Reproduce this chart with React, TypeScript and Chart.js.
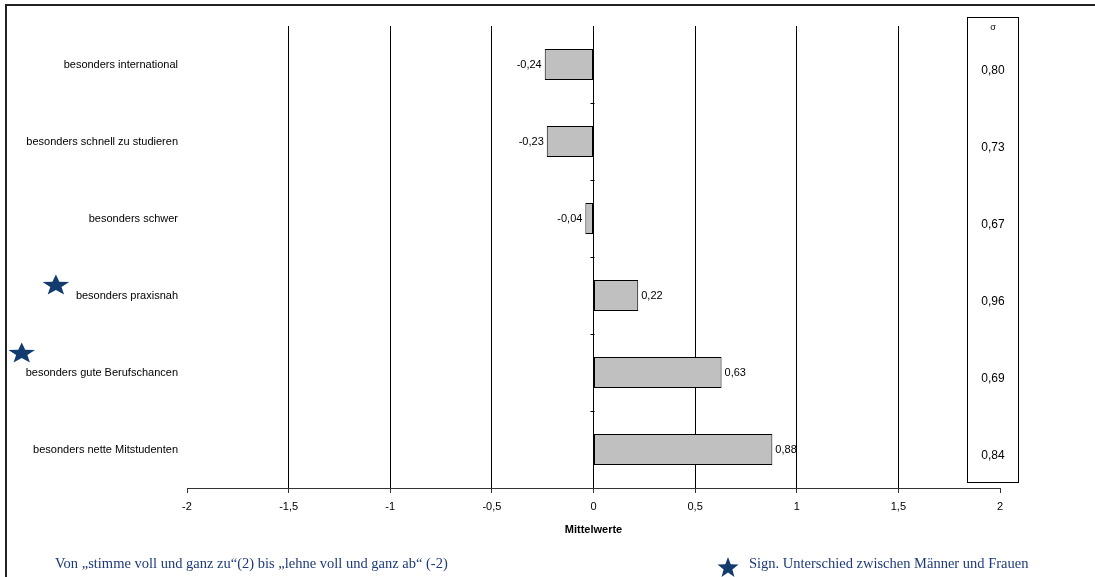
import React, { useEffect, useRef } from "react";
import { Chart, registerables } from "chart.js";
Chart.register(...registerables);

const categories = [
  "besonders international",
  "besonders schnell zu studieren",
  "besonders schwer",
  "besonders praxisnah",
  "besonders gute Berufschancen",
  "besonders nette Mitstudenten",
];
const meanValues = [-0.24, -0.23, -0.04, 0.22, 0.63, 0.88];
const sigmaValues = [0.8, 0.73, 0.67, 0.96, 0.69, 0.84];
const significantCategories = [3, 4];
const xMin = -2;
const xMax = 2;
const xStep = 0.5;
const axisTitle = "Mittelwerte";
const sigmaHeader = "σ";
const footnoteLeft = "Von „stimme voll und ganz zu“(2) bis „lehne voll und ganz ab“ (-2)";
const footnoteRight = "Sign. Unterschied zwischen Männer und Frauen";

const NAVY = "#123c6e";
const TEXT_NAVY = "#1d3a78";

const fmt = (v: number, d?: number) =>
  (d === undefined ? String(v) : v.toFixed(d)).replace(".", ",");

function drawStar(ctx: CanvasRenderingContext2D, cx: number, cy: number, rx: number, ry: number) {
  ctx.beginPath();
  for (let i = 0; i < 10; i++) {
    const r = i % 2 === 0 ? 1 : 0.42;
    const a = -Math.PI / 2 + (i * Math.PI) / 5;
    const x = cx + Math.cos(a) * rx * r;
    const y = cy + Math.sin(a) * ry * r * 1.1 + ry * 0.1;
    if (i === 0) ctx.moveTo(x, y);
    else ctx.lineTo(x, y);
  }
  ctx.closePath();
  ctx.fillStyle = NAVY;
  ctx.fill();
}

const extrasPlugin = {
  id: "extras",
  afterDatasetsDraw(chart: any) {
    const ctx: CanvasRenderingContext2D = chart.ctx;
    const xs = chart.scales.x;
    const ys = chart.scales.y;
    ctx.save();
    // value labels
    ctx.font = "11px 'Liberation Sans', Arial, sans-serif";
    ctx.fillStyle = "#000";
    ctx.textBaseline = "middle";
    meanValues.forEach((v, i) => {
      const y = ys.getPixelForValue(i);
      const x = xs.getPixelForValue(v);
      if (v < 0) {
        ctx.textAlign = "right";
        ctx.fillText(fmt(v, 2), x - 3, y);
      } else {
        ctx.textAlign = "left";
        ctx.fillText(fmt(v, 2), x + 3, y);
      }
    });
    // ticks on zero axis between categories
    const x0 = Math.round(xs.getPixelForValue(0)) + 0.5;
    ctx.strokeStyle = "#000";
    ctx.lineWidth = 1;
    for (let i = 0; i < categories.length - 1; i++) {
      const yb = Math.round((ys.getPixelForValue(i) + ys.getPixelForValue(i + 1)) / 2) + 0.5;
      ctx.beginPath();
      ctx.moveTo(x0 - 4, yb);
      ctx.lineTo(x0, yb);
      ctx.stroke();
    }
    // sigma box
    const bx = 967.5, by = 17.5, bw = 51, bh = 465;
    ctx.fillStyle = "#fff";
    ctx.fillRect(bx, by, bw, bh);
    ctx.strokeStyle = "#000";
    ctx.strokeRect(bx, by, bw, bh);
    ctx.fillStyle = "#000";
    ctx.textAlign = "center";
    ctx.font = "9px 'Liberation Sans', Arial, sans-serif";
    ctx.fillText(sigmaHeader, bx + bw / 2, 28);
    ctx.font = "12px 'Liberation Sans', Arial, sans-serif";
    sigmaValues.forEach((s, i) => {
      ctx.fillText(fmt(s, 2), bx + bw / 2, ys.getPixelForValue(i) + 6);
    });
    // stars for significant categories
    const starDx = [-20, -4];
    const starDy = [-11, -20];
    ctx.font = "11px 'Liberation Sans', Arial, sans-serif";
    significantCategories.forEach((ci, k) => {
      const w = ctx.measureText(categories[ci]).width;
      const textLeft = xs.left - 9 - w;
      drawStar(ctx, textLeft + starDx[k], ys.getPixelForValue(ci) + starDy[k], 14, 10);
    });
    // footnotes
    ctx.font = "14.5px 'Liberation Serif', 'Times New Roman', serif";
    ctx.fillStyle = TEXT_NAVY;
    ctx.textAlign = "left";
    ctx.textBaseline = "middle";
    ctx.fillText(footnoteLeft, 55, 564);
    drawStar(ctx, 728, 567, 11, 10);
    ctx.fillStyle = TEXT_NAVY;
    ctx.fillText(footnoteRight, 749, 564);
    // frame
    ctx.strokeStyle = "#222";
    ctx.lineWidth = 2;
    ctx.beginPath();
    ctx.moveTo(6, 600);
    ctx.lineTo(6, 5);
    ctx.lineTo(1100, 5);
    ctx.stroke();
    ctx.restore();
  },
};

export default function App() {
  const ref = useRef<HTMLCanvasElement | null>(null);
  useEffect(() => {
    if (!ref.current) return;
    const chart = new Chart(ref.current, {
      type: "bar",
      data: {
        labels: categories,
        datasets: [
          {
            data: meanValues,
            backgroundColor: "#c0c0c0",
            borderColor: "#000",
            borderWidth: 1,
            borderSkipped: false,
            barPercentage: 0.4,
            categoryPercentage: 1,
          },
        ],
      },
      options: {
        indexAxis: "y",
        responsive: false,
        animation: false,
        layout: { padding: { top: 26, right: 95, bottom: 36, left: 0 } },
        plugins: { legend: { display: false }, tooltip: { enabled: false } },
        scales: {
          x: {
            type: "linear",
            min: xMin,
            max: xMax,
            ticks: {
              stepSize: xStep,
              color: "#000",
              font: { family: "'Liberation Sans', Arial, sans-serif", size: 11 },
              padding: 7,
              maxRotation: 0,
              callback: (v: any) => fmt(Number(v)),
            },
            grid: {
              color: (c: any) =>
                c.tick && (c.tick.value === xMin || c.tick.value === xMax) ? "rgba(0,0,0,0)" : "#000",
              tickColor: "#333",
              tickLength: 5,
              lineWidth: 1,
            },
            border: { display: true, color: "#333", width: 1 },
            title: {
              display: true,
              text: axisTitle,
              color: "#000",
              font: { family: "'Liberation Sans', Arial, sans-serif", size: 11, weight: "bold" },
              padding: { top: 4, bottom: 4 },
            },
            afterFit: (s: any) => {
              s.height = 53;
            },
          },
          y: {
            type: "category",
            position: "left",
            grid: { display: false, drawTicks: false },
            border: { display: false },
            ticks: {
              color: "#000",
              font: { family: "'Liberation Sans', Arial, sans-serif", size: 11 },
              padding: 9,
            },
            afterFit: (s: any) => {
              s.width = 187;
            },
          },
        },
      },
      plugins: [extrasPlugin],
    } as any);
    return () => chart.destroy();
  }, []);
  return (
    <div style={{ position: "absolute", left: 0, top: 0, width: 1095, height: 577, background: "#fff" }}>
      <canvas ref={ref} width={1095} height={577} style={{ display: "block" }} />
    </div>
  );
}
